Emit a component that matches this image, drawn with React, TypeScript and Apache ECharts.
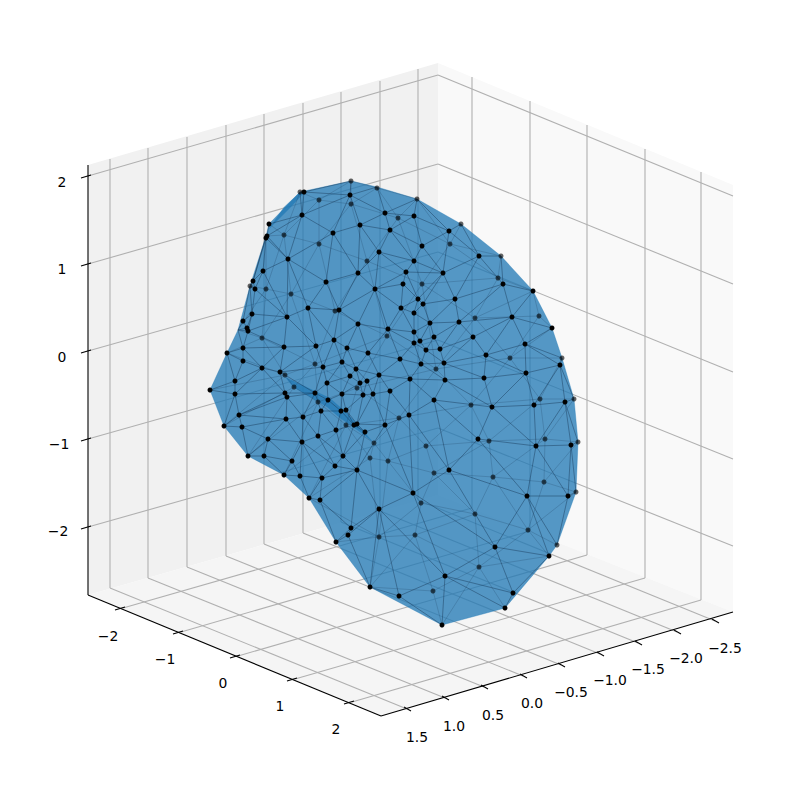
import React, { useEffect, useRef } from "react";
import * as echarts from "echarts";

type P = [number, number];

// Markers that sit in front (solid black)
const frontPoints: P[] = [
  [304,192],[350,195],[385,213],[302,215],[269,224],[360,225],[390,230],[333,233],[267,236],[266,238],
  [379,252],[288,259],[263,271],[358,273],[253,281],[326,282],[255,289],[375,289],[308,308],[339,310],
  [252,314],[287,317],[358,324],[243,321],[247,328],[388,329],[248,331],[334,340],[243,348],[284,347],
  [316,346],[347,348],[227,353],[368,353],[243,361],[342,362],[323,367],[262,368],[356,369],[280,372],
  [350,376],[379,375],[235,381],[367,381],[327,383],[360,383],[210,390],[390,391],[235,394],[285,393],
  [315,393],[342,394],[363,395],[373,394],[287,397],[328,400],[321,411],[341,411],[346,410],[239,415],
  [286,419],[303,417],[224,426],[242,427],[354,425],[357,424],[385,425],[336,430],[365,432],[318,436],
  [268,439],[302,442],[248,456],[264,456],[343,456],[292,461],[335,466],[357,470],[284,475],[300,476],
  [322,478],[414,216],[449,231],[422,246],[479,256],[414,261],[406,272],[443,273],[503,284],[403,284],
  [533,291],[418,299],[455,299],[423,304],[401,308],[414,313],[512,317],[430,323],[459,322],[552,328],
  [414,332],[434,337],[473,337],[414,343],[420,341],[525,344],[426,350],[440,349],[486,355],[400,359],
  [444,363],[421,364],[560,365],[526,373],[484,378],[410,379],[445,380],[565,402],[434,400],[534,405],
  [492,407],[409,415],[478,439],[571,445],[536,446],[449,470],[568,496],[309,498],[320,500],[413,493],
  [527,496],[379,509],[351,528],[348,535],[336,542],[495,547],[549,556],[445,576],[370,587],[399,596],
  [513,593],[505,608],[442,625],
];

// Markers that are depth-shaded (dimmed)
const backPoints: P[] = [
  [351,181],[377,188],[300,192],[319,200],[351,204],[398,218],[284,235],[319,244],[367,261],[250,286],
  [266,289],[291,294],[335,311],[262,338],[387,336],[315,364],[285,375],[294,387],[357,388],[318,402],
  [399,418],[346,425],[374,443],[370,458],[388,461],[417,199],[461,224],[450,244],[501,256],[498,278],
  [422,284],[539,316],[475,318],[510,358],[562,358],[436,369],[540,399],[574,399],[471,405],[545,439],
  [489,441],[578,442],[426,446],[434,473],[493,477],[544,482],[576,492],[421,503],[475,514],[528,530],
  [379,537],[415,535],[557,545],[479,567],[433,591],
];

// Outline of the surface
const surfaceOutline: P[] = [
  [300,192],[351,181],[377,187],[417,199],[461,224],[501,256],[533,291],[552,328],[562,358],[574,399],
  [578,442],[576,492],[557,545],[549,556],[505,608],[442,625],[370,587],[336,542],[309,498],[284,475],
  [248,456],[224,426],[210,390],[227,353],[238,330],[250,286],[266,236],[269,224],
];

// Places where the sheet folds over itself
const foldA: P[] = [[285,377],[313,390],[330,398],[347,413],[367,435],[374,443],[360,432],[340,418],[327,407],[310,397],[293,387]];
const foldB: P[] = [[300,192],[304,193],[290,208],[270,228],[268,230],[284,207]];

// Panes
const paneLeft: P[] = [[88,165],[438,63],[438,495],[88,595]];
const paneRight: P[] = [[438,63],[733,185],[733,612],[438,495]];
const paneFloor: P[] = [[88,595],[438,495],[733,612],[381,716]];

// Grid lines: from, to
const verticalsLeftX = [110,148,187,226,264,303,341,380,418];
const verticalsLeftTop = [159,148,137,125,114,103,92,81,69];
const verticalsLeftBottom = [588,578,567,556,544,533,522,511,500];
const verticalsRightX = [472,530,587,645,701];
const verticalsRightTop = [77,101,125,149,172];
const verticalsRightBottom = [508,531,555,578,600];
const floorTicksA: P[] = [[123,608],[181,632],[238,656],[295,679],[352,702]];
const floorTicksB: P[] = [[407,709],[445,698],[484,687],[523,676],[561,665],[600,654],[638,643],[677,632],[715,621]];
const zLeft = [176,264,351,439,527];
const zMid = [75,164,252,340,428];
const zRight = [196,284,372,459,546];

const axisSpine: P[] = [[88,165],[88,595],[381,716],[733,612]];

// Tick labels
const zLabels = ["2","1","0","−1","−2"];
const zLabelPos: P[] = [[62,182],[62,269],[62,357],[59,444],[58,531]];
const aLabels = ["−2","−1","0","1","2"];
const aLabelPos: P[] = [[108,636],[165,659],[223,683],[280,706],[336,729]];
const bLabels = ["1.5","1.0","0.5","0.0","−0.5","−1.0","−1.5","−2.0","−2.5"];
const bLabelPos: P[] = [[417,737],[454,726],[493,715],[532,703],[571,692],[610,680],[648,669],[686,658],[725,648]];

function inPoly(p: P, poly: P[]) {
  let c = false;
  for (let i = 0, j = poly.length - 1; i < poly.length; j = i++) {
    const [xi, yi] = poly[i], [xj, yj] = poly[j];
    if (yi > p[1] !== yj > p[1] && p[0] < ((xj - xi) * (p[1] - yi)) / (yj - yi) + xi) c = !c;
  }
  return c;
}

function isOutlineEdge(a: P, b: P) {
  const m = surfaceOutline.length;
  for (let i = 0; i < m; i++) {
    const u = surfaceOutline[i], v = surfaceOutline[(i + 1) % m];
    if ((u === a && v === b) || (u === b && v === a)) return true;
    if ((u.join() === a.join() && v.join() === b.join()) || (u.join() === b.join() && v.join() === a.join())) return true;
  }
  return false;
}

// Mesh connectivity for a set of markers (Bowyer-Watson)
function meshEdges(pts: P[]): [P, P][] {
  const seen = new Set<string>();
  const uniq = pts.filter((p) => { const k = p.join(); if (seen.has(k)) return false; seen.add(k); return true; });
  const all: P[] = [...uniq, [-5000,-5000],[6000,-5000],[400,7000]];
  const n = uniq.length;
  let tris: number[][] = [[n, n + 1, n + 2]];
  const circum = (t: number[], p: P) => {
    const [a, b, c] = t.map((i) => all[i]);
    const ax = a[0]-p[0], ay = a[1]-p[1], bx = b[0]-p[0], by = b[1]-p[1], cx = c[0]-p[0], cy = c[1]-p[1];
    const d = (ax*ax+ay*ay)*(bx*cy-cx*by) - (bx*bx+by*by)*(ax*cy-cx*ay) + (cx*cx+cy*cy)*(ax*by-bx*ay);
    const o = (b[0]-a[0])*(c[1]-a[1]) - (b[1]-a[1])*(c[0]-a[0]);
    return o > 0 ? d > 0 : d < 0;
  };
  for (let i = 0; i < n; i++) {
    const bad: number[][] = [], good: number[][] = [];
    tris.forEach((t) => (circum(t, all[i]) ? bad : good).push(t));
    const count = new Map<string, number>();
    bad.forEach((t) => [[t[0],t[1]],[t[1],t[2]],[t[2],t[0]]].forEach(([a,b]) => {
      const k = a < b ? `${a},${b}` : `${b},${a}`;
      count.set(k, (count.get(k) || 0) + 1);
    }));
    count.forEach((v, k) => {
      if (v === 1) { const [a, b] = k.split(",").map(Number); good.push([a, b, i]); }
    });
    tris = good;
  }
  const edges = new Map<string, [P, P]>();
  tris.forEach((t) => {
    if (t.some((i) => i >= n)) return;
    const [a, b, c] = t.map((i) => all[i]);
    const cen: P = [(a[0]+b[0]+c[0])/3, (a[1]+b[1]+c[1])/3];
    if (!inPoly(cen, surfaceOutline)) return;
    [[t[0],t[1]],[t[1],t[2]],[t[2],t[0]]].forEach(([x,y]) => {
      if (isOutlineEdge(all[x], all[y])) return;
      edges.set(x < y ? `${x},${y}` : `${y},${x}`, [all[x], all[y]]);
    });
  });
  return [...edges.values()];
}

const grey = "#b0b0b0";
const FONT = "DejaVu Sans";

function polySeries(z: number, polys: { pts: P[]; fill: string; stroke?: string; lw?: number }[]) {
  return {
    type: "custom", coordinateSystem: "cartesian2d", z, silent: true, clip: false,
    encode: { x: 0, y: 1 },
    data: polys.map((p, i) => [p.pts[0][0], p.pts[0][1], i]),
    renderItem: (params: any, api: any) => {
      const p = polys[params.dataIndex];
      return { type: "polygon", shape: { points: p.pts.map((q) => api.coord(q)) },
        style: { fill: p.fill, stroke: p.stroke || "none", lineWidth: p.lw || 0 } };
    },
  };
}

function segSeries(z: number, segs: [P, P][], color: string, width: number) {
  return {
    type: "custom", coordinateSystem: "cartesian2d", z, silent: true, clip: false,
    encode: { x: 0, y: 1 },
    data: segs.map((s) => [s[0][0], s[0][1], s[1][0], s[1][1]]),
    renderItem: (params: any, api: any) => {
      const a = api.coord([api.value(0), api.value(1)]);
      const b = api.coord([api.value(2), api.value(3)]);
      return { type: "line", shape: { x1: a[0], y1: a[1], x2: b[0], y2: b[1] },
        style: { stroke: color, lineWidth: width, fill: "none" } };
    },
  };
}

function labelSeries(labels: string[], pos: P[]) {
  return {
    type: "custom", coordinateSystem: "cartesian2d", z: 20, silent: true, clip: false,
    encode: { x: 0, y: 1 },
    data: pos.map((p) => [p[0], p[1]]),
    renderItem: (params: any, api: any) => {
      const c = api.coord([api.value(0), api.value(1)]);
      return { type: "text", x: c[0], y: c[1],
        style: { text: labels[params.dataIndex], fill: "#000", font: `13.9px "${FONT}"`, align: "center", verticalAlign: "middle" } };
    },
  };
}

export default function App() {
  const ref = useRef<HTMLDivElement>(null);
  useEffect(() => {
    document.body.style.margin = "0";
    const chart = echarts.init(ref.current!, undefined, { renderer: "svg" });

    const grid: [P, P][] = [];
    verticalsLeftX.forEach((x, i) => grid.push([[x, verticalsLeftTop[i]], [x, verticalsLeftBottom[i]]]));
    verticalsRightX.forEach((x, i) => grid.push([[x, verticalsRightTop[i]], [x, verticalsRightBottom[i]]]));
    zLeft.forEach((y, i) => {
      grid.push([[88, y], [438, zMid[i]]]);
      grid.push([[438, zMid[i]], [733, zRight[i]]]);
    });
    floorTicksA.forEach((p, i) => grid.push([p, [verticalsRightX[i], verticalsRightBottom[i]]]));
    floorTicksB.forEach((p, i) => grid.push([p, [verticalsLeftX[i], verticalsLeftBottom[i]]]));

    const ticks: [P, P][] = [];
    zLeft.forEach((y) => ticks.push([[81, y + 2], [91, y - 1]]));
    floorTicksA.forEach((p) => ticks.push([[p[0] - 8, p[1] + 2], [p[0] + 2, p[1] - 1]]));
    floorTicksB.forEach((p) => ticks.push([[p[0] - 3, p[1] - 2], [p[0] + 4, p[1] + 2]]));

    const spine: [P, P][] = axisSpine.slice(1).map((p, i) => [axisSpine[i], p]);

    const frontEdges = meshEdges([...frontPoints, ...surfaceOutline]);
    const backEdges = meshEdges([...backPoints, ...surfaceOutline]);

    chart.setOption({
      animation: false,
      backgroundColor: "#ffffff",
      grid: { left: 0, top: 0, width: 800, height: 800, containLabel: false },
      xAxis: { type: "value", min: 0, max: 800, show: false },
      yAxis: { type: "value", min: 0, max: 800, inverse: true, show: false },
      series: [
        polySeries(1, [
          { pts: paneLeft, fill: "#f1f1f1" },
          { pts: paneRight, fill: "#f9f9f9" },
          { pts: paneFloor, fill: "#f5f5f5" },
        ]),
        segSeries(2, grid, grey, 1.1),
        segSeries(3, spine, "#000", 1.1),
        segSeries(3, ticks, "#000", 1.1),
        polySeries(4, [{ pts: surfaceOutline, fill: "rgba(31,119,180,0.76)", stroke: "rgba(31,119,180,0.5)", lw: 0.7 }]),
        polySeries(5, [
          { pts: foldA, fill: "rgba(31,119,180,0.7)" },
          { pts: foldB, fill: "rgba(31,119,180,0.7)" },
        ]),
        segSeries(6, backEdges, "rgba(25,60,90,0.32)", 0.7),
        segSeries(7, frontEdges, "rgba(20,50,80,0.62)", 0.7),
        {
          type: "scatter", z: 8, silent: true, clip: false, symbolSize: 5,
          itemStyle: { color: "#000", opacity: 0.62 },
          data: backPoints,
        },
        {
          type: "scatter", z: 9, silent: true, clip: false, symbolSize: 5,
          itemStyle: { color: "#000", opacity: 1 },
          data: frontPoints,
        },
        labelSeries(zLabels, zLabelPos),
        labelSeries(aLabels, aLabelPos),
        labelSeries(bLabels, bLabelPos),
      ],
    });
    return () => chart.dispose();
  }, []);
  return <div ref={ref} style={{ width: 800, height: 800 }} />;
}
